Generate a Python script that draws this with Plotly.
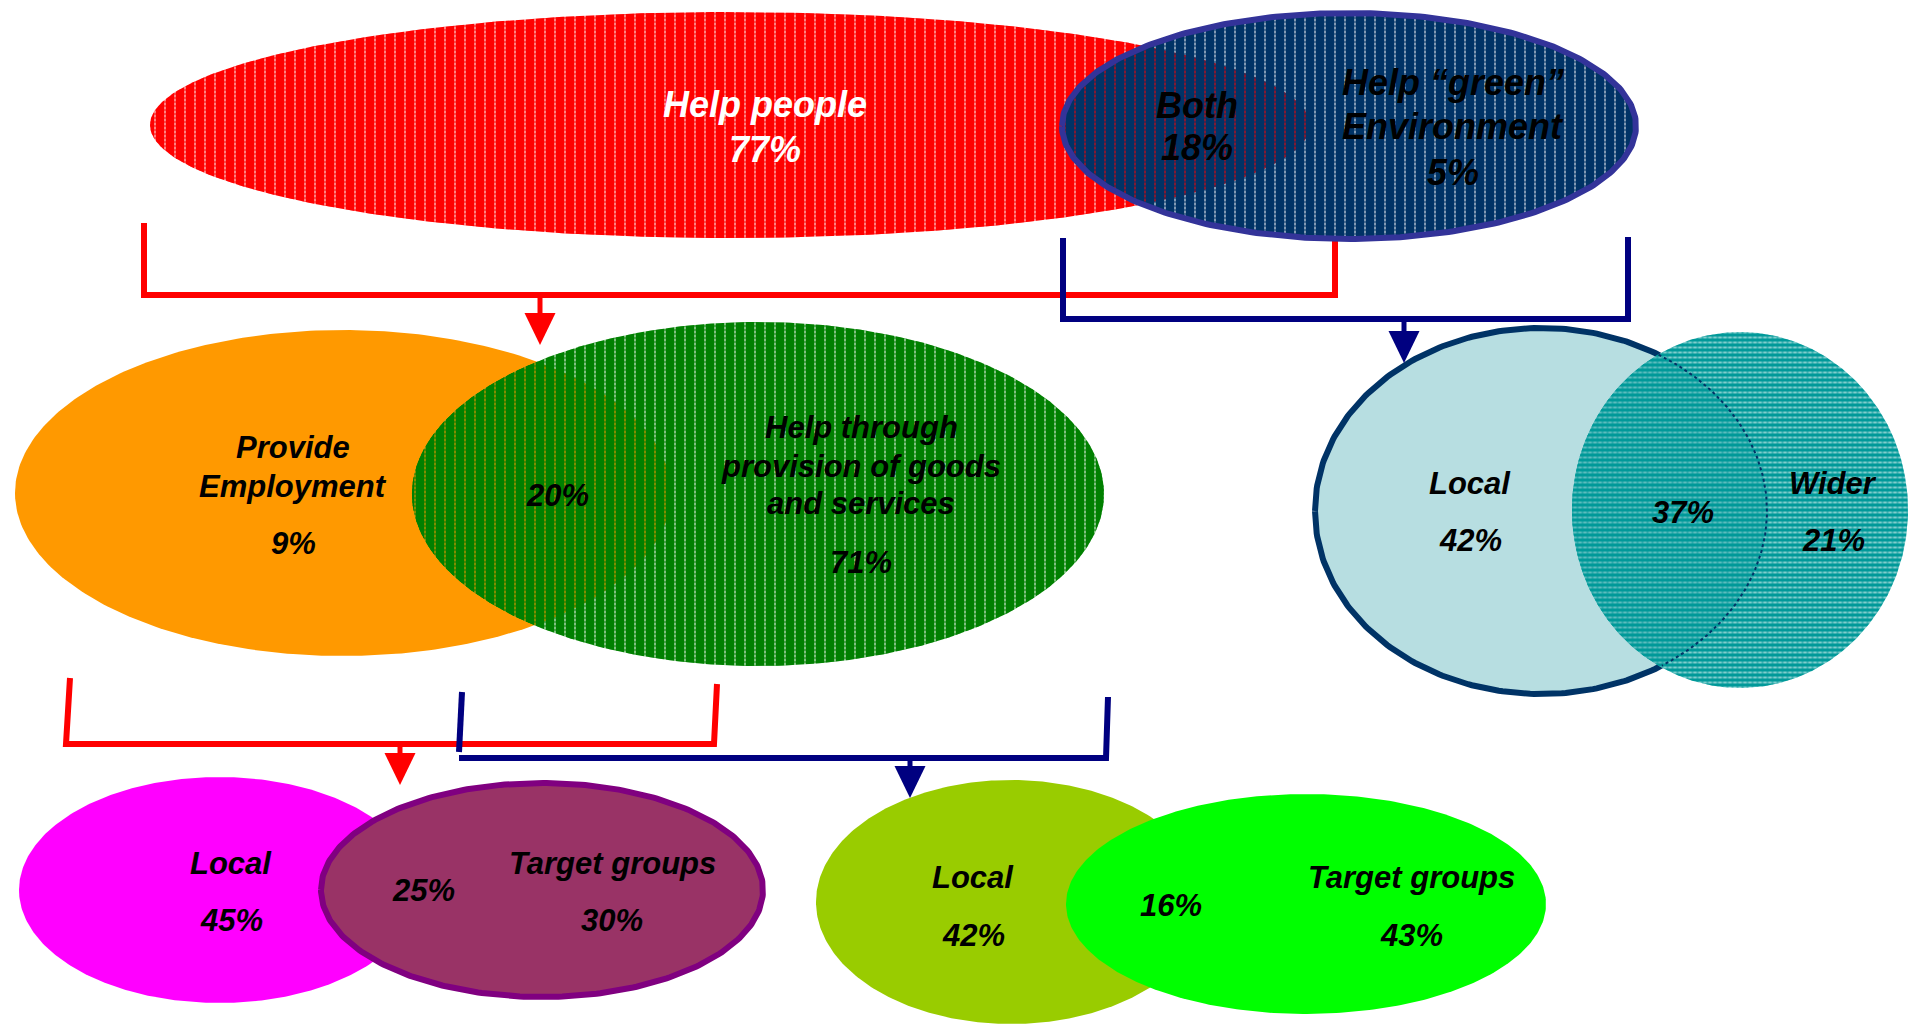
import numpy as np
import plotly.graph_objects as go

# ---- survey shares (%) ----
focus_labels = ["Help people", "Both", "Help “green”|Environment"]
focus_values = [77, 18, 5]

help_labels = ["Provide|Employment", "", "Help through|provision of goods|and services"]
help_values = [9, 20, 71]

green_reach_labels = ["Local", "", "Wider"]
green_reach_values = [42, 37, 21]

employ_reach_labels = ["Local", "", "Target groups"]
employ_reach_values = [45, 25, 30]

goods_reach_labels = ["Local", "", "Target groups"]
goods_reach_values = [42, 16, 43]

W, H = 1912, 1025

# ---- ellipse geometry (cx, cy, a, b) in page pixels ----
E_RED = (730, 125, 580, 113)
E_BLUE = (1349, 126, 287, 113)
E_ORANGE = (343, 493, 328, 163)
E_GREEN = (758, 494, 346, 172)
E_LBLUE = (1541, 511, 226, 183)
E_TEAL = (1740, 510, 168, 178)
E_MAGENTA = (219, 890, 200, 113)
E_PURPLE = (542, 890, 221, 107)
E_LIME = (1011, 902, 195, 122)
E_BGREEN = (1306, 904, 240, 110)


def ellipse(e, n=360):
    cx, cy, a, b = e
    t = np.linspace(-np.pi, np.pi, n)
    return cx + a * np.cos(t), cy + b * np.sin(t)


def inside(x, y, e):
    cx, cy, a, b = e
    return ((x - cx) / a) ** 2 + ((y - cy) / b) ** 2 <= 1.0


def overlap(e1, e2):
    x1, y1 = ellipse(e1, 1400)
    x2, y2 = ellipse(e2, 1400)
    m1 = inside(x1, y1, e2)
    m2 = inside(x2, y2, e1)
    xs = np.concatenate([x1[m1], x2[m2]])
    ys = np.concatenate([y1[m1], y2[m2]])
    ang = np.arctan2(ys - ys.mean(), xs - xs.mean())
    order = np.argsort(ang)
    xs, ys = xs[order], ys[order]
    return np.append(xs, xs[0]), np.append(ys, ys[0])


fig = go.Figure()


def solid(xs, ys, color, line_color=None, line_width=0):
    fig.add_trace(go.Scatter(
        x=xs, y=ys, mode="lines", fill="toself", fillcolor=color,
        line=dict(width=line_width, color=line_color or color),
        hoverinfo="skip", showlegend=False))


def textured(xs, ys, bg, fg, style="dash"):
    # base: pattern lines over background colour
    if style == "dash":
        base = dict(shape="|", size=10, solidity=0.2)
        cut = dict(shape="-", size=4, solidity=0.5)
    else:
        base = dict(shape="-", size=5, solidity=0.4)
        cut = dict(shape="|", size=5, solidity=0.4)
    fig.add_trace(go.Scatter(
        x=xs, y=ys, mode="lines", fill="toself", fillcolor=bg,
        fillpattern=dict(bgcolor=bg, fgcolor=fg, **base),
        line=dict(width=0, color=bg), hoverinfo="skip", showlegend=False))
    # cut the lines into short dashes
    fig.add_trace(go.Scatter(
        x=xs, y=ys, mode="lines", fill="toself", fillcolor="rgba(0,0,0,0)",
        fillpattern=dict(bgcolor="rgba(0,0,0,0)", fgcolor=bg, **cut),
        line=dict(width=0, color=bg), hoverinfo="skip", showlegend=False))


def path(xs, ys, color, width=6):
    fig.add_trace(go.Scatter(
        x=xs, y=ys, mode="lines", line=dict(color=color, width=width),
        hoverinfo="skip", showlegend=False))


def arrow(x, y0, tip, color, w=31, h=32):
    path([x, x], [y0, tip - h + 2], color, 5)
    fig.add_trace(go.Scatter(
        x=[x - w / 2, x + w / 2, x, x - w / 2], y=[tip - h, tip - h, tip, tip - h],
        mode="lines", fill="toself", fillcolor=color, line=dict(width=0, color=color),
        hoverinfo="skip", showlegend=False))


RED = "#FF0000"
NAVY = "#000080"

# ---- connector brackets ----
path([144, 144, 1335, 1335], [223, 295, 295, 236], RED)
path([1063, 1063, 1628, 1628], [238, 319, 319, 237], NAVY)
path([70, 66, 66, 714, 714, 717], [678, 738, 744, 744, 744, 684], RED)
path([462, 459], [692, 752], NAVY)
path([459, 1106, 1106, 1108], [758, 758, 758, 697], NAVY)

# ---- top row: people / environment ----
rx, ry = ellipse(E_RED)
textured(rx, ry, "#FF0000", "#FFFFFF")
bx, by = ellipse(E_BLUE)
textured(bx, by, "#003366", "#FFFFFF")
ox, oy = overlap(E_RED, E_BLUE)
textured(ox, oy, "#003366", "#FF0000")
path(bx, by, "#333399", 6)

# ---- middle row: how people are helped ----
solid(*ellipse(E_ORANGE), "#FF9900")
gx, gy = ellipse(E_GREEN)
textured(gx, gy, "#008000", "#FFFFFF")
ox, oy = overlap(E_ORANGE, E_GREEN)
textured(ox, oy, "#008000", "#FF9900")

# ---- reach of environmental help ----
lx, ly = ellipse(E_LBLUE)
solid(lx, ly, "#B7DEE1", "#003366", 6)
tx, ty = ellipse(E_TEAL)
textured(tx, ty, "#009999", "#FFFFFF", style="mesh")
ox, oy = overlap(E_LBLUE, E_TEAL)
textured(ox, oy, "#009999", "#B7DEE1", style="mesh")
m = inside(lx, ly, E_TEAL)
fig.add_trace(go.Scatter(
    x=lx[m], y=ly[m], mode="lines", line=dict(color="#003366", width=2, dash="dot"),
    hoverinfo="skip", showlegend=False))

# ---- bottom row: reach of employment / goods ----
solid(*ellipse(E_MAGENTA), "#FF00FF")
solid(*ellipse(E_PURPLE), "#993366", "#800080", 6)
solid(*ellipse(E_LIME), "#99CC00")
solid(*ellipse(E_BGREEN), "#00FF00")

# ---- arrows ----
arrow(540, 295, 345, RED)
arrow(1404, 319, 363, NAVY)
arrow(400, 744, 785, RED)
arrow(910, 758, 798, NAVY)

# ---- text ----
FONT = "Liberation Sans, Arial, sans-serif"


def label(x, y, text, size=31, color="black"):
    fig.add_annotation(
        x=x, y=y, xref="x", yref="y", text=text, showarrow=False,
        xanchor="center", yanchor="middle",
        font=dict(family=FONT, size=size, color=color, weight="bold", style="italic"))


def venn_text(labels, values, spots, size=31, colors=None):
    for i, (name, val) in enumerate(zip(labels, values)):
        x, name_ys, val_y = spots[i]
        col = colors[i] if colors else "black"
        for line, y in zip(name.split("|") if name else [], name_ys):
            label(x, y, line, size, col)
        label(x, val_y, f"{val}%", size, col)


venn_text(focus_labels, focus_values,
          [(765, [104], 149), (1197, [105], 147), (1453, [82, 126], 172)],
          size=36, colors=["white", "black", "black"])
venn_text(help_labels, help_values,
          [(293, [447, 486], 543), (557, [], 495), (861, [427, 466, 503], 562)])
venn_text(green_reach_labels, green_reach_values,
          [(1470, [483], 540), (1683, [], 512), (1833, [483], 540)])
venn_text(employ_reach_labels, employ_reach_values,
          [(231, [863], 920), (423, [], 890), (612, [863], 920)])
venn_text(goods_reach_labels, goods_reach_values,
          [(973, [877], 935), (1171, [], 905), (1411, [877], 935)])

fig.update_layout(
    width=W, height=H, margin=dict(l=0, r=0, t=0, b=0),
    paper_bgcolor="white", plot_bgcolor="white", showlegend=False,
    xaxis=dict(range=[0, W], visible=False, fixedrange=True),
    yaxis=dict(range=[H, 0], visible=False, fixedrange=True),
)

fig.write_html("out.html")
